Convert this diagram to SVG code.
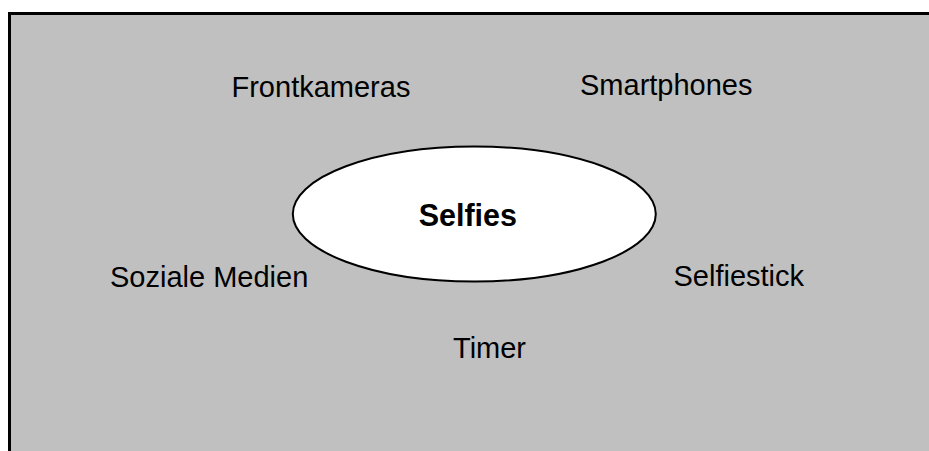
<svg xmlns="http://www.w3.org/2000/svg" width="929" height="451" viewBox="0 0 929 451">
<style>
.t{font-family:"Liberation Sans",Arial,sans-serif;font-size:29px;fill:#000}
.b{font-weight:bold;font-size:30.5px}
</style>
<rect x="0" y="0" width="929" height="451" fill="#fff"/>
<g id="frame">
<rect x="9.5" y="13.5" width="930" height="450" fill="#c0c0c0" stroke="#000" stroke-width="3"/>
</g>
<g id="connectors"></g>
<g id="center">
<ellipse cx="474.3" cy="214" rx="181.5" ry="67.5" fill="#fff" stroke="#000" stroke-width="2"/>
<text class="t b" x="467.8" y="225.5" text-anchor="middle">Selfies</text>
</g>
<g id="frontkameras"><text class="t" x="231.5" y="96.7">Frontkameras</text></g>
<g id="smartphones"><text class="t" x="580" y="94.5">Smartphones</text></g>
<g id="soziale-medien"><text class="t" x="110" y="287.3">Soziale Medien</text></g>
<g id="selfiestick"><text class="t" x="673.5" y="285.7">Selfiestick</text></g>
<g id="timer"><text class="t" x="453" y="358.3">Timer</text></g>
</svg>
